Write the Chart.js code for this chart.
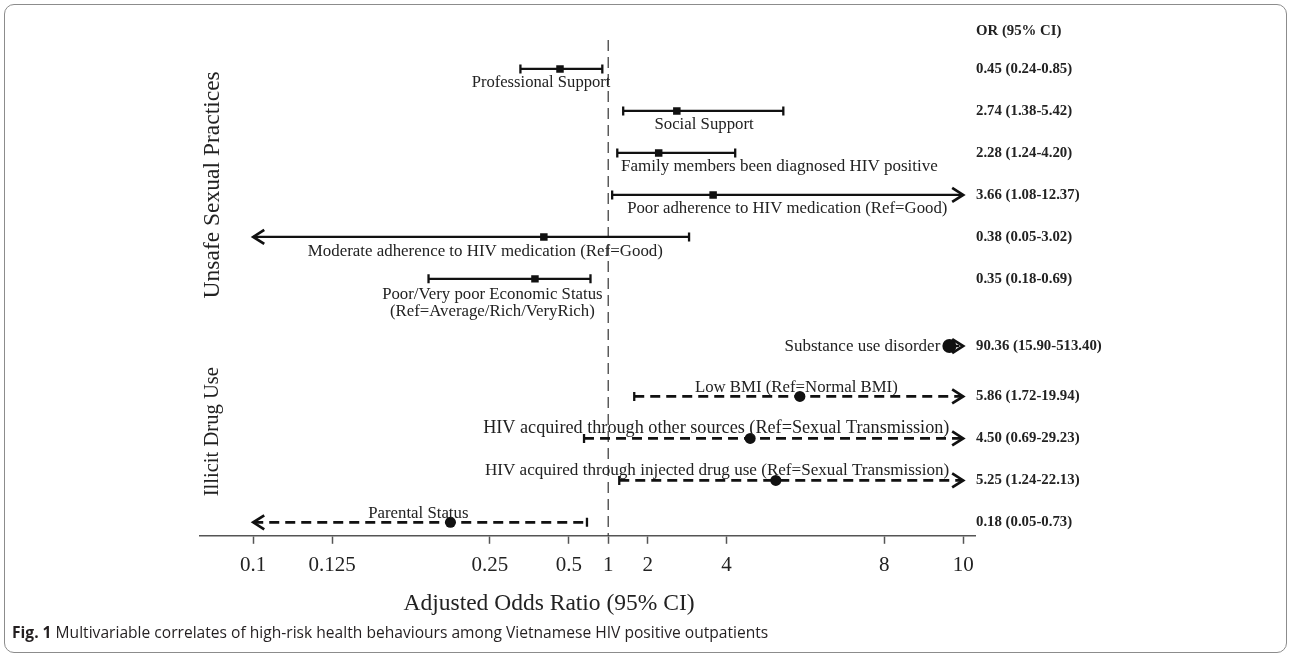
<!DOCTYPE html>
<html>
<head>
<meta charset="utf-8">
<script src="https://cdn.jsdelivr.net/npm/chart.js@4.4.0/dist/chart.umd.min.js"></script>
<style>
  html, body { margin: 0; padding: 0; background: #fff; }
  #wrap { position: relative; width: 1292px; height: 658px; overflow: hidden; }
  #frame { position: absolute; left: 4px; top: 4px; width: 1283px; height: 649px; border: 1px solid #8c8c8c; border-radius: 10px; box-sizing: border-box; }
  #caption { position: absolute; left: 12px; top: 621px; font: 15.6px 'Open Sans', sans-serif; color: #231f20; white-space: nowrap; }
  canvas { position: absolute; left: 0; top: 0; }
</style>
</head>
<body>
<div id="wrap">
  <div id="frame"></div>
  <canvas id="forest" width="1292" height="658"></canvas>
  <div id="caption"><b>Fig. 1</b> Multivariable correlates of high-risk health behaviours among Vietnamese HIV positive outpatients</div>
</div>
<script>
(() => {
    'use strict';

    // Rows of the forest plot (top to bottom)
    const rowLabels = [
        'Professional Support',
        'Social Support',
        'Family members been diagnosed HIV positive',
        'Poor adherence to HIV medication (Ref=Good)',
        'Moderate adherence to HIV medication (Ref=Good)',
        'Poor/Very poor Economic Status\n(Ref=Average/Rich/VeryRich)',
        'Substance use disorder',
        'Low BMI (Ref=Normal BMI)',
        'HIV acquired through other sources (Ref=Sexual Transmission)',
        'HIV acquired through injected drug use (Ref=Sexual Transmission)',
        'Parental Status'
    ];
    const groupNames = ['Unsafe Sexual Practices', 'Illicit Drug Use'];
    const rowGroup = [0, 0, 0, 0, 0, 0, 1, 1, 1, 1, 1];

    // values as drawn in the figure (point estimate and CI ends)
    const orEst = [0.45, 2.74, 2.28, 3.66, 0.38, 0.35, 9.65, 5.86, 4.6, 5.25, 0.2];
    const ciLow = [0.31, 1.38, 1.23, 1.1, 0.05, 0.18, 9.65, 1.66, 0.62, 1.28, 0.05];
    const ciHigh = [0.87, 5.44, 4.22, 12.37, 3.05, 0.69, 513.40, 19.94, 29.23, 22.13, 0.65];

    // printed column on the right
    const orHeader = 'OR (95% CI)';
    const orText = [
        '0.45 (0.24-0.85)', '2.74 (1.38-5.42)', '2.28 (1.24-4.20)', '3.66 (1.08-12.37)',
        '0.38 (0.05-3.02)', '0.35 (0.18-0.69)', '90.36 (15.90-513.40)', '5.86 (1.72-19.94)',
        '4.50 (0.69-29.23)', '5.25 (1.24-22.13)', '0.18 (0.05-0.73)'
    ];

    const tickVals = [0.1, 0.125, 0.25, 0.5, 1, 2, 4, 8, 10];
    const tickLabels = ['0.1', '0.125', '0.25', '0.5', '1', '2', '4', '8', '10'];
    const axisTitle = 'Adjusted Odds Ratio (95% CI)';

    // layout only
    const rowSlot = [0, 1, 2, 3, 4, 5, 6.6, 7.8, 8.8, 9.8, 10.8];
    const labelAt = [0.37, 3.43, 5.34, 5.54, 0.243, 0.254, 9.42, 5.77, 3.74, 3.76, 0.172];
    const labelDy = [14, 14, 14, 14, 15, 16, 0, -9, -10, -10, -9];
    const labelSize = [16.6, 16.8, 17, 16.8, 16.9, 16.8, 17, 16.8, 18.2, 17.1, 16.8];

    const AX_MIN = 0.1, AX_MAX = 10;
    const SERIF = "'Liberation Serif', 'Times New Roman', serif";
    const INK = '#111';

    // symmetric odds-ratio axis: linear above 1, linear in 1/x below 1
    const toAxis = v => (v >= 1 ? v - 1 : 1 - 1 / v);
    const clamp = v => Math.min(AX_MAX, Math.max(AX_MIN, v));

    const lineSets = rowLabels.map((name, i) => ({
        type: 'line',
        label: name,
        data: [
            { x: toAxis(clamp(ciLow[i])), y: rowSlot[i] },
            { x: toAxis(clamp(ciHigh[i])), y: rowSlot[i] }
        ],
        borderColor: INK,
        borderWidth: rowGroup[i] ? 2.6 : 2.3,
        borderDash: rowGroup[i] ? [10, 6] : [],
        borderCapStyle: 'butt',
        pointRadius: 0,
        order: 2
    }));

    const caps = [];
    rowLabels.forEach((_, i) => {
        if (ciLow[i] === orEst[i]) return;
        if (ciLow[i] >= AX_MIN) caps.push({ x: toAxis(ciLow[i]), y: rowSlot[i] });
        if (ciHigh[i] <= AX_MAX) caps.push({ x: toAxis(ciHigh[i]), y: rowSlot[i] });
    });

    const capSet = {
        type: 'scatter',
        data: caps,
        pointStyle: 'line',
        rotation: 90,
        radius: 4.5,
        borderWidth: 2.3,
        borderColor: INK,
        order: 1
    };

    const markerSet = {
        type: 'scatter',
        data: orEst.map((v, i) => ({ x: toAxis(clamp(v)), y: rowSlot[i] })),
        pointStyle: orEst.map((_, i) => (rowGroup[i] ? 'circle' : 'rect')),
        radius: orEst.map((_, i) => (i === 6 ? 7 : rowGroup[i] ? 5.5 : 5.3)),
        backgroundColor: INK,
        borderColor: INK,
        borderWidth: 0,
        order: 0
    };

    function arrow(ctx, x, y, dir) {
        ctx.save();
        ctx.strokeStyle = INK;
        ctx.lineWidth = 2.7;
        ctx.lineCap = 'butt';
        ctx.lineJoin = 'miter';
        ctx.beginPath();
        ctx.moveTo(x - dir * 11, y - 7);
        ctx.lineTo(x, y);
        ctx.lineTo(x - dir * 11, y + 7);
        ctx.stroke();
        ctx.restore();
    }

    const decor = {
        id: 'decor',
        beforeDatasetsDraw(chart) {
            const { ctx, chartArea, scales: { x } } = chart;
            const px = x.getPixelForValue(toAxis(1));
            ctx.save();
            ctx.strokeStyle = '#333';
            ctx.lineWidth = 1.2;
            ctx.setLineDash([11, 6]);
            ctx.beginPath();
            ctx.moveTo(px, chartArea.top);
            ctx.lineTo(px, chartArea.bottom);
            ctx.stroke();
            ctx.restore();
        },
        afterDatasetsDraw(chart) {
            const { ctx, chartArea, scales: { x, y } } = chart;
            ctx.save();
            // arrows for intervals beyond the axis
            rowLabels.forEach((_, i) => {
                const py = y.getPixelForValue(rowSlot[i]);
                if (ciLow[i] < AX_MIN) arrow(ctx, x.getPixelForValue(toAxis(AX_MIN)), py, -1);
                if (ciHigh[i] > AX_MAX) arrow(ctx, x.getPixelForValue(toAxis(AX_MAX)), py, 1);
            });

            // row labels
            ctx.fillStyle = '#222';
            ctx.textBaseline = 'middle';
            rowLabels.forEach((name, i) => {
                ctx.font = labelSize[i] + 'px ' + SERIF;
                const py = y.getPixelForValue(rowSlot[i]) + labelDy[i];
                ctx.textAlign = i === 6 ? 'right' : 'center';
                const lx = x.getPixelForValue(toAxis(labelAt[i]));
                name.split('\n').forEach((ln, k) => ctx.fillText(ln, lx, py + k * 17));
            });

            // OR column
            ctx.textAlign = 'left';
            ctx.font = 'bold 14.8px ' + SERIF;
            const colX = chartArea.right + 1;
            ctx.fillText(orHeader, colX, y.getPixelForValue(-0.9));
            orText.forEach((t, i) => ctx.fillText(t, colX, y.getPixelForValue(rowSlot[i])));

            // group labels
            ctx.textAlign = 'center';
            [[2.76, 23.5], [8.64, 20.6]].forEach(([slot, size], g) => {
                ctx.save();
                ctx.font = size + 'px ' + SERIF;
                ctx.translate(chartArea.left + 13, y.getPixelForValue(slot));
                ctx.rotate(-Math.PI / 2);
                ctx.fillText(groupNames[g], 0, 0);
                ctx.restore();
            });

            // axis title
            ctx.font = '23.5px ' + SERIF;
            ctx.fillText(axisTitle, x.getPixelForValue(toAxis(0.4)), chartArea.bottom + 68);
            ctx.restore();
        }
    };

    new Chart(document.getElementById('forest'), {
        data: { datasets: [...lineSets, capSet, markerSet] },
        options: {
            responsive: false,
            animation: false,
            events: [],
            layout: { padding: { left: 200, right: 317, top: 40, bottom: 71 } },
            plugins: { legend: { display: false }, tooltip: { enabled: false } },
            scales: {
                x: {
                    type: 'linear',
                    min: -10.35,
                    max: 9.3,
                    afterBuildTicks: scale => {
                        scale.ticks = tickVals.map(v => ({ value: toAxis(v) }));
                    },
                    grid: { drawOnChartArea: false, drawTicks: true, tickLength: 8, tickWidth: 1.5, color: '#555' },
                    border: { display: true, color: '#555', width: 1.5 },
                    ticks: {
                        autoSkip: false,
                        maxRotation: 0,
                        padding: 9,
                        color: '#222',
                        font: { family: SERIF, size: 21 },
                        callback: (val, idx) => tickLabels[idx]
                    }
                },
                y: {
                    type: 'linear',
                    reverse: true,
                    min: -0.69,
                    max: 11.12,
                    display: false
                }
            }
        },
        plugins: [decor]
    });
})();
</script>
</body>
</html>
